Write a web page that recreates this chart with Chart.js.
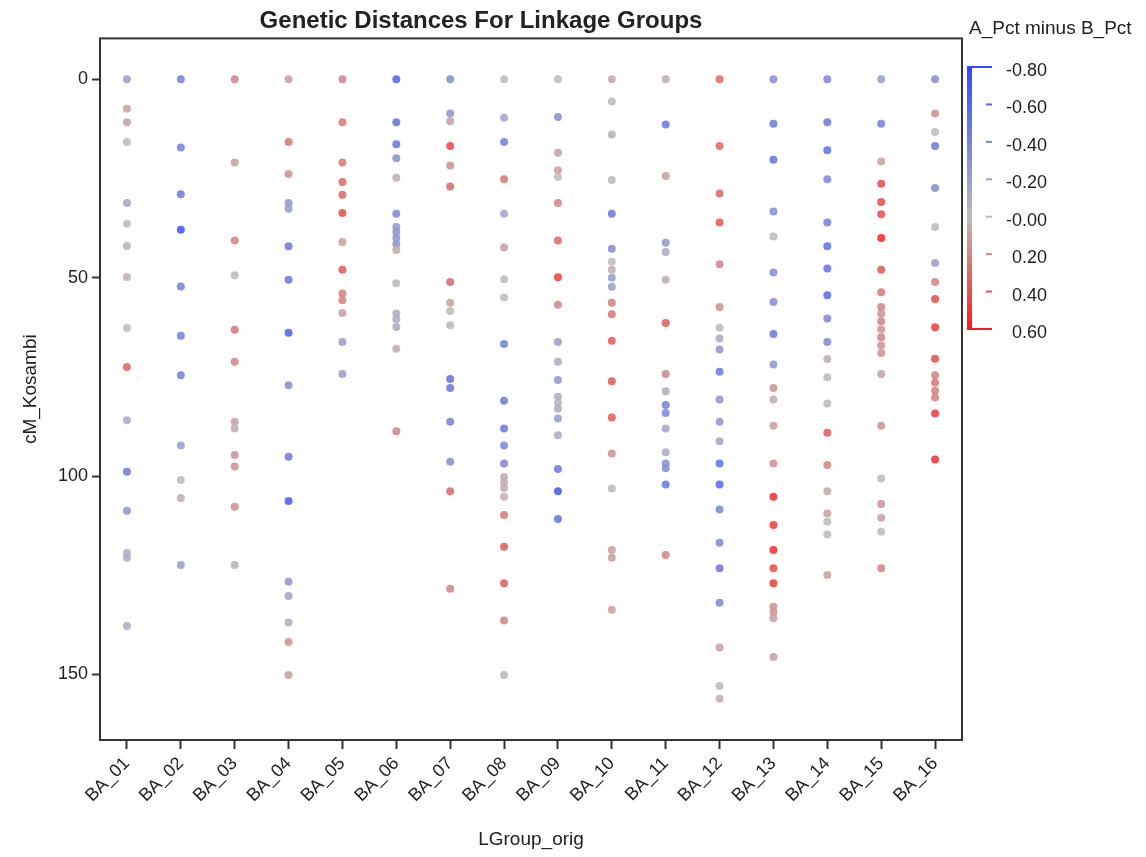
<!DOCTYPE html>
<html>
<head>
<meta charset="utf-8">
<script src="https://cdn.jsdelivr.net/npm/chart.js@4"></script>
<style>
  body { margin: 0; background: #fff; }
  #wrap { width: 1146px; height: 857px; position: relative; }
</style>
</head>
<body>
<div id="wrap"><canvas id="myChart"></canvas></div>
<script>
// linkage groups on the x axis
var groups = ["BA_01","BA_02","BA_03","BA_04","BA_05","BA_06","BA_07","BA_08",
              "BA_09","BA_10","BA_11","BA_12","BA_13","BA_14","BA_15","BA_16"];

// cM_Kosambi positions per group
var cm01 = [0, 7.4, 10.8, 15.8, 31.2, 36.4, 42, 49.8, 62.7, 72.5, 85.9, 98.9, 108.7, 119.4, 120.6, 137.8];
var cm02 = [0, 17.2, 29, 37.9, 52.2, 64.6, 74.6, 92.3, 101, 105.5, 122.4];
var cm03 = [0, 21, 40.6, 49.4, 63.1, 71.2, 86.3, 88, 94.7, 97.6, 107.7, 122.4];
var cm04 = [0, 15.8, 23.9, 31.2, 32.6, 42.1, 50.5, 63.9, 77.1, 95.1, 106.3, 126.6, 130.2, 136.9, 141.8, 150.1];
var cm05 = [0, 10.8, 21, 25.9, 29.1, 33.7, 41, 48, 54, 55.7, 58.9, 66.2, 74.3];
var cm06 = [0, 10.8, 16.4, 19.9, 24.8, 33.9, 37.2, 38.5, 40, 41.5, 43, 51.4, 59, 60.5, 62.4, 67.9, 88.7];
var cm07 = [0, 8.6, 10.6, 16.8, 21.7, 27, 51.1, 56.3, 58.4, 62, 75.5, 77.8, 86.3, 96.4, 103.8, 128.4];
var cm08 = [0, 9.7, 15.8, 25.2, 33.9, 42.4, 50.4, 55, 66.7, 81, 88, 92.3, 96.8, 100.2, 101.5, 103, 105.2, 109.8, 117.8, 127, 136.4, 150.1];
var cm09 = [0, 9.5, 18.5, 22.9, 24.6, 31.2, 40.6, 49.9, 56.8, 66.2, 71.2, 75.8, 80, 81.6, 83, 85.5, 89.7, 98.2, 103.8, 110.8];
var cm10 = [0, 5.6, 13.9, 25.4, 33.9, 42.7, 46, 48, 50, 52.3, 56.3, 59.2, 65.9, 76.1, 85.2, 94.3, 103.1, 118.6, 120.6, 133.7];
var cm11 = [0, 11.4, 24.4, 41.2, 43.5, 50.5, 61.4, 74.3, 78.6, 82.1, 84.1, 88, 94, 96.8, 98, 102.1, 119.9];
var cm12 = [0, 16.8, 28.8, 36.1, 46.6, 57.4, 62.6, 65.3, 68.1, 73.7, 80.7, 86.3, 91.2, 96.8, 102.1, 108.4, 116.8, 123.2, 131.9, 143.2, 152.9, 156.1];
var cm13 = [0, 11.2, 20.3, 33.3, 39.6, 48.7, 56.1, 64.2, 71.9, 77.8, 80.7, 87.3, 96.8, 105.2, 112.3, 118.6, 123.2, 127, 132.9, 134.3, 135.8, 145.6];
var cm14 = [0, 10.8, 17.9, 25.2, 36.1, 42.1, 47.7, 54.4, 60.3, 66.2, 70.5, 75.1, 81.7, 89.1, 97.2, 103.8, 109.4, 111.5, 114.7, 124.9];
var cm15 = [0, 11.2, 20.7, 26.3, 30.9, 34, 40, 48, 53.7, 57.4, 59, 61, 63, 65, 67, 69, 74.3, 87.3, 100.6, 107, 110.5, 114, 123.2];
var cm16 = [0, 8.6, 13.3, 16.8, 27.4, 37.2, 46.3, 51.1, 55.4, 62.5, 70.4, 74.6, 76.5, 78.5, 80.2, 84.2, 95.8];

// A_Pct minus B_Pct for each marker (same order as above)
var df01 = [-0.2, 0.1, 0.1, 0, -0.15, 0, -0.05, 0.05, 0, 0.3, -0.1, -0.45, -0.25, -0.1, -0.1, -0.1];
var df02 = [-0.4, -0.4, -0.45, -0.7, -0.4, -0.4, -0.4, -0.2, 0, 0.05, -0.2];
var df03 = [0.2, 0.1, 0.2, 0, 0.25, 0.2, 0.1, 0.05, 0.15, 0.15, 0.15, -0.05];
var df04 = [0.1, 0.25, 0.15, -0.25, -0.2, -0.45, -0.45, -0.6, -0.3, -0.45, -0.65, -0.25, -0.15, -0.1, 0.15, 0.1];
var df05 = [0.2, 0.25, 0.25, 0.3, 0.3, 0.4, 0.1, 0.35, 0.2, 0.2, 0.1, -0.2, -0.2];
var df06 = [-0.6, -0.5, -0.5, -0.3, 0.05, -0.35, -0.25, -0.25, -0.25, -0.25, 0.05, 0, -0.1, -0.1, -0.1, 0.05, 0.2];
var df07 = [-0.3, -0.25, 0.1, 0.4, 0.15, 0.3, 0.3, 0.1, 0, 0, -0.5, -0.45, -0.4, -0.3, 0.3, 0.2];
var df08 = [0, -0.15, -0.4, 0.25, -0.15, 0.1, 0, 0, -0.4, -0.45, -0.45, -0.35, -0.35, 0.05, 0.05, 0.05, 0.05, 0.25, 0.35, 0.35, 0.2, 0];
var df09 = [0, -0.3, 0.1, 0.1, 0, 0.2, 0.3, 0.45, 0.2, -0.2, -0.1, -0.25, -0.1, -0.05, -0.1, -0.2, -0.1, -0.45, -0.65, -0.5];
var df10 = [0.05, 0, -0.05, 0, -0.45, -0.3, 0, 0.05, -0.2, -0.2, 0.2, 0.25, 0.35, 0.35, 0.35, 0.15, 0, 0.1, 0.1, 0.1];
var df11 = [0.05, -0.45, 0.1, -0.25, -0.1, 0.05, 0.35, 0.2, -0.1, -0.4, -0.35, -0.15, -0.1, -0.3, -0.3, -0.45, 0.2];
var df12 = [0.3, 0.3, 0.3, 0.35, 0.2, 0.15, 0, -0.1, -0.25, -0.45, -0.25, -0.25, -0.15, -0.5, -0.55, -0.35, -0.35, -0.45, -0.35, 0.1, 0, 0.05];
var df13 = [-0.3, -0.45, -0.5, -0.3, 0, -0.3, -0.3, -0.45, -0.25, 0.15, 0.05, 0.1, 0.15, 0.5, 0.45, 0.5, 0.4, 0.45, 0.15, 0.15, 0.1, 0.1];
var df14 = [-0.35, -0.45, -0.5, -0.35, -0.4, -0.5, -0.5, -0.55, -0.35, -0.35, 0.05, 0, 0, 0.35, 0.2, 0.05, 0.1, 0, 0, 0.1];
var df15 = [-0.2, -0.4, 0.1, 0.4, 0.4, 0.4, 0.55, 0.35, 0.25, 0.2, 0.15, 0.2, 0.15, 0.2, 0.15, 0.15, 0.1, 0.15, 0, 0.15, 0.1, 0, 0.2];
var df16 = [-0.3, 0.15, 0, -0.45, -0.3, 0, -0.2, 0.2, 0.4, 0.45, 0.4, 0.2, 0.25, 0.2, 0.2, 0.45, 0.5];

var legendTicks = [-0.8, -0.6, -0.4, -0.2, 0, 0.2, 0.4, 0.6];
var yTicks = [0, 50, 100, 150];

var allCM = [cm01,cm02,cm03,cm04,cm05,cm06,cm07,cm08,cm09,cm10,cm11,cm12,cm13,cm14,cm15,cm16];
var allDF = [df01,df02,df03,df04,df05,df06,df07,df08,df09,df10,df11,df12,df13,df14,df15,df16];

// blue -> grey -> red, like the colour bar
var cLow = [45, 75, 255], cMid = [190, 187, 187], cHigh = [255, 25, 25];
function diffColor(v, alpha) {
  var a, b, t;
  if (v <= 0) { a = cMid; b = cLow; t = Math.min(1, -v / 0.8); }
  else { a = cMid; b = cHigh; t = Math.min(1, v / 0.6); }
  var r = Math.round(a[0] + (b[0] - a[0]) * t);
  var g = Math.round(a[1] + (b[1] - a[1]) * t);
  var bl = Math.round(a[2] + (b[2] - a[2]) * t);
  return "rgba(" + r + "," + g + "," + bl + "," + (alpha || 1) + ")";
}

var points = [];
var colors = [];
for (var i = 0; i < groups.length; i++) {
  for (var j = 0; j < allCM[i].length; j++) {
    points.push({ x: groups[i], y: allCM[i][j] });
    colors.push(diffColor(allDF[i][j], 0.88));
  }
}

var FONT = "'Liberation Sans', Arial, sans-serif";
var INK = "#222";

// frame round the plot and the colour legend on the right
var extras = {
  id: "extras",
  afterDraw: function(chart) {
    var ctx = chart.ctx;
    var a = chart.chartArea;
    ctx.save();
    ctx.strokeStyle = "#333";
    ctx.lineWidth = 2;
    ctx.strokeRect(a.left, a.top, a.right - a.left, a.bottom - a.top);

    var barX = a.right + 5, top = 67, bottom = 329, right = 992;
    var grad = ctx.createLinearGradient(0, top, 0, bottom);
    grad.addColorStop(0, diffColor(-0.8));
    grad.addColorStop(0.8 / 1.4, diffColor(0));
    grad.addColorStop(1, diffColor(0.6));
    ctx.fillStyle = grad;
    ctx.fillRect(barX, top, 5, bottom - top);

    ctx.font = "19px " + FONT;
    ctx.fillStyle = INK;
    ctx.textBaseline = "middle";
    ctx.textAlign = "left";
    ctx.fillText("A_Pct minus B_Pct", a.right + 7, 29);

    ctx.textAlign = "right";
    ctx.font = "18px " + FONT;
    legendTicks.forEach(function(v, k) {
      var y = top + (v + 0.8) / 1.4 * (bottom - top);
      ctx.strokeStyle = diffColor(v);
      ctx.lineWidth = 2;
      ctx.beginPath();
      if (k === 0 || k === legendTicks.length - 1) ctx.moveTo(barX, y);
      else ctx.moveTo(right - 6, y);
      ctx.lineTo(right, y);
      ctx.stroke();
      var txt = v.toFixed(2);
      if (v === 0) txt = "-0.00";
      ctx.fillStyle = INK;
      ctx.fillText(txt, 1047, y + 4);
    });
    ctx.restore();
  }
};

var ctx = document.getElementById("myChart").getContext("2d");
var mychart = new Chart(ctx, {
  type: "scatter",
  data: {
    labels: groups,
    datasets: [{
      data: points,
      pointBackgroundColor: colors,
      pointBorderWidth: 0,
      pointRadius: 4,
      pointHoverRadius: 4
    }]
  },
  options: {
    responsive: true,
    maintainAspectRatio: false,
    animation: false,
    layout: { padding: { left: 0, right: 184, top: 0, bottom: 0 } },
    plugins: {
      legend: { display: false },
      tooltip: { enabled: false },
      title: {
        display: true,
        text: "Genetic Distances For Linkage Groups",
        color: INK,
        font: { family: FONT, size: 24, weight: "bold", lineHeight: 1.1 },
        padding: { top: 8, bottom: 4 }
      }
    },
    scales: {
      x: {
        type: "category",
        labels: groups,
        offset: true,
        border: { display: false },
        grid: { drawOnChartArea: false, tickLength: 9, tickColor: "#333", tickWidth: 2 },
        ticks: { color: INK, font: { family: FONT, size: 18 }, minRotation: 45, maxRotation: 45, padding: 4 },
        title: { display: true, text: "LGroup_orig", color: INK, font: { family: FONT, size: 19 }, padding: { top: 4, bottom: 6 } },
        afterFit: function(s) { s.height = 117; }
      },
      y: {
        reverse: true,
        min: -10.3,
        max: 166.5,
        border: { display: false },
        afterBuildTicks: function(s) {
          s.ticks = yTicks.map(function(v) { return { value: v }; });
        },
        grid: { drawOnChartArea: false, tickLength: 8, tickColor: "#333", tickWidth: 2 },
        ticks: { color: INK, font: { family: FONT, size: 18 }, padding: 4 },
        title: { display: true, text: "cM_Kosambi", color: INK, font: { family: FONT, size: 19 }, padding: { top: 19, bottom: 4 } },
        afterFit: function(s) { s.width = 100; }
      }
    }
  },
  plugins: [extras]
});
</script>
</body>
</html>
